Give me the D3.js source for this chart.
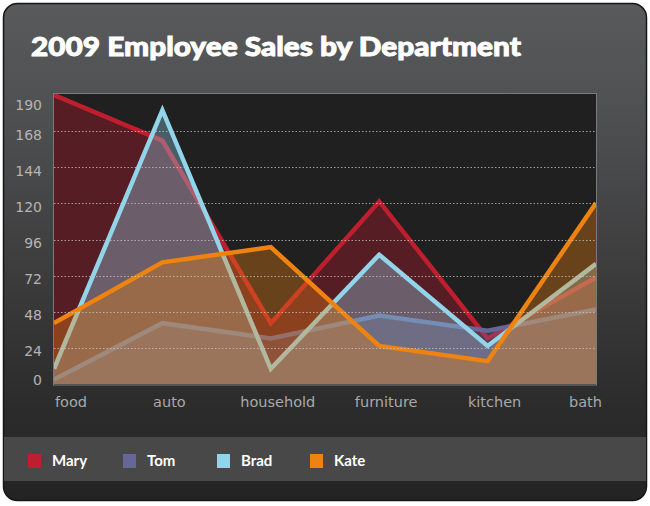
<!DOCTYPE html>
<html><head><meta charset="utf-8">
<script src="https://cdn.jsdelivr.net/npm/d3@7"></script>
<style>
html,body{margin:0;padding:0;background:#fff;}
svg{display:block;}
</style></head>
<body>
<svg id="chart" width="650" height="506"></svg>
<script>
const title = "2009 Employee Sales by Department";
const categories = ["food","auto","household","furniture","kitchen","bath"];
const seriesNames = ["Mary","Tom","Brad","Kate"];
const seriesColors = ["#be1e2d","#666699","#92d5ea","#ee8310"];
const mary = [190,160,40,120,30,70];
const tom  = [3,40,30,45,35,49];
const brad = [10,180,10,85,25,79];
const kate = [40,80,90,25,15,119];
const yTickLabels = ["0","24","48","72","96","120","144","168","190"];
const yMax = 190;

const seriesValues = [mary, tom, brad, kate];

const svg = d3.select("#chart");
const defs = svg.append("defs");

const bg = defs.append("linearGradient").attr("id","bg").attr("x1",0).attr("y1",0).attr("x2",0).attr("y2",1);
[[0,"#595a5c"],[0.2,"#505153"],[0.5,"#3f3f40"],[0.8,"#2c2c2c"],[1,"#232323"]]
  .forEach(([o,c])=>bg.append("stop").attr("offset",o).attr("stop-color",c));

// card
svg.append("rect").attr("x",3.5).attr("y",3.5).attr("width",643).attr("height",497)
  .attr("rx",14).attr("fill","url(#bg)").attr("stroke","#161616").attr("stroke-width",1.5);

// legend band
svg.append("rect").attr("x",4).attr("y",437).attr("width",642).attr("height",44).attr("fill","#484848");

// title
svg.append("text").attr("x",31).attr("y",56).text(title)
  .attr("fill","#fff").attr("stroke","#fff").attr("stroke-width",0.9)
  .attr("font-family","Lato, 'Open Sans', sans-serif")
  .attr("font-weight",900).attr("font-size",26)
  .attr("textLength",490).attr("lengthAdjust","spacingAndGlyphs");

const pLeft = 54, pRight = 596, pTop = 95, pBottom = 384;
const x = d3.scalePoint().domain(categories).range([pLeft,pRight]);
const y = d3.scaleLinear().domain([0,yMax]).range([pBottom,pTop]);

defs.append("clipPath").attr("id","plotclip").append("rect")
  .attr("x",pLeft).attr("y",94).attr("width",pRight-pLeft).attr("height",pBottom-94);

svg.append("rect").attr("x",pLeft).attr("y",94).attr("width",pRight-pLeft).attr("height",pBottom-94)
  .attr("fill","#202020");

const plot = svg.append("g").attr("clip-path","url(#plotclip)");

const area = d3.area().x((d,i)=>x(categories[i])).y0(y(0)).y1(d=>y(d));
const line = d3.line().x((d,i)=>x(categories[i])).y(d=>y(d));

seriesValues.forEach((vals,si)=>{
  plot.append("path").attr("d",area(vals)).attr("fill",seriesColors[si]).attr("fill-opacity",0.35);
  plot.append("path").attr("d",line(vals)).attr("fill","none").attr("stroke",seriesColors[si])
    .attr("stroke-width",4.5).attr("stroke-linejoin","miter");
});

// gridlines (on top)
const tickVals = yTickLabels.map((t,i)=>i*yMax/(yTickLabels.length-1));
svg.append("g").selectAll("line").data(tickVals.slice(1,-1)).join("line")
  .attr("x1",pLeft).attr("x2",pRight)
  .attr("y1",d=>Math.round(y(d))+0.5).attr("y2",d=>Math.round(y(d))+0.5)
  .attr("stroke","#c8c8c8").attr("stroke-opacity",0.75).attr("stroke-width",1)
  .attr("stroke-dasharray","1.5,2");

// plot border
svg.append("rect").attr("x",pLeft-0.5).attr("y",93.5).attr("width",pRight-pLeft+1).attr("height",pBottom-93+0.5)
  .attr("fill","none").attr("stroke","#7a7a7a").attr("stroke-width",1);

// y labels
const nT = yTickLabels.length;
svg.append("g").selectAll("text").data(yTickLabels).join("text")
  .attr("x",42)
  .attr("y",(t,i)=>{
    const yy = y(tickVals[i]);
    if(i===0) return yy - 4;
    if(i===nT-1) return yy + 10;
    return yy + 3.5;
  })
  .attr("dy","0.35em").attr("text-anchor","end")
  .attr("fill","#b4b4b4").attr("font-family","'DejaVu Sans', Verdana, sans-serif").attr("font-size",14)
  .text(d=>d);

// x labels
svg.append("g").selectAll("text").data(categories).join("text")
  .attr("x",(c,i)=> i===0 ? x(c)+1 : (i===categories.length-1 ? x(c)+6 : x(c)+7))
  .attr("y",402).attr("dy","0.35em")
  .attr("text-anchor",(c,i)=> i===0 ? "start" : (i===categories.length-1 ? "end" : "middle"))
  .attr("fill","#a9a9a9").attr("font-family","'DejaVu Sans', Verdana, sans-serif").attr("font-size",14.5)
  .text(d=>d);

// legend
const legendX = [28,123,217,310];
const lg = svg.append("g").selectAll("g").data(seriesNames).join("g")
  .attr("transform",(d,i)=>`translate(${legendX[i]},0)`);
lg.append("rect").attr("x",0).attr("y",454).attr("width",13).attr("height",14)
  .attr("fill",(d,i)=>seriesColors[i]);
lg.append("text").attr("x",24).attr("y",461).attr("dy","0.35em")
  .attr("fill","#fff").attr("font-family","Lato, 'Open Sans', sans-serif").attr("font-weight","bold")
  .attr("font-size",15).text(d=>d);
</script>
</body></html>
